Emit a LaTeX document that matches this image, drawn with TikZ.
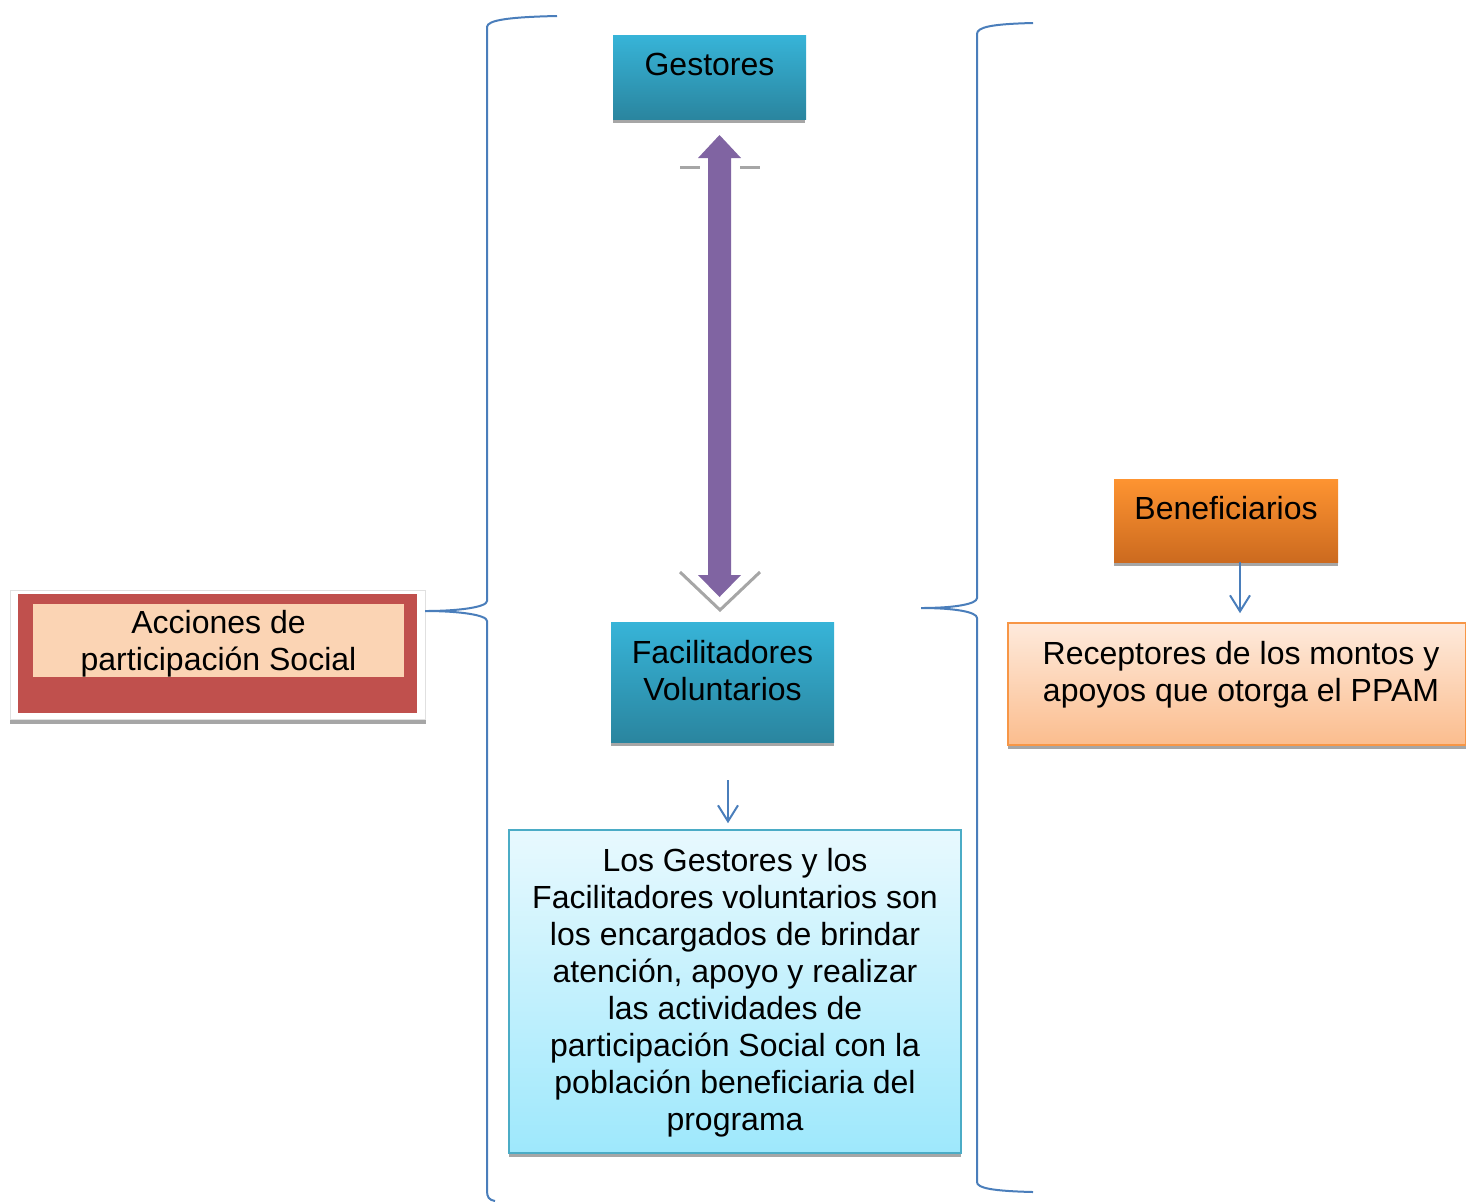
\documentclass[tikz,border=0pt]{standalone}
\usepackage{fontspec}
\setmainfont{Liberation Sans}
\usetikzlibrary{arrows.meta}
\definecolor{tealtop}{HTML}{37B4D8}
\definecolor{tealbot}{HTML}{2A859F}
\definecolor{lbtop}{HTML}{E8F9FE}
\definecolor{lbbot}{HTML}{9EE8FC}
\definecolor{lbline}{HTML}{4BACC6}
\definecolor{ortop}{HTML}{FE9431}
\definecolor{orbot}{HTML}{CC6A1F}
\definecolor{pchtop}{HTML}{FEEADC}
\definecolor{pchbot}{HTML}{FBBD8E}
\definecolor{orline}{HTML}{F79646}
\definecolor{redc}{HTML}{C0504D}
\definecolor{peach}{HTML}{FBD4B4}
\definecolor{shadowc}{HTML}{A6A6A6}
\definecolor{bracec}{HTML}{4A7EBB}
\definecolor{purp}{HTML}{8064A2}
\tikzset{
  txt/.style={font=\fontsize{16}{18.5}\selectfont, align=center, inner sep=0pt},
  tealbox/.style={rectangle, inner sep=0pt, top color=tealtop, bottom color=tealbot, draw=none},
  lbbox/.style={rectangle, inner sep=0pt, top color=lbtop, bottom color=lbbot, draw=lbline, line width=0.8pt},
  orbox/.style={rectangle, inner sep=0pt, top color=ortop, bottom color=orbot, draw=none},
  pchbox/.style={rectangle, inner sep=0pt, top color=pchtop, bottom color=pchbot, draw=orline, line width=0.8pt},
  bracepath/.style={draw=bracec, line width=1pt},
  barrow/.style={draw=bracec, line width=1pt, -{Straight Barb[length=8pt,width=10pt,line width=1pt]}},
}
\begin{document}
\begin{tikzpicture}[x=0.5pt,y=-0.5pt]
\useasboundingbox (0,0) rectangle (1466,1201);
% Acciones
\fill[shadowc] (10,719) rectangle (426,724);
\node[rectangle, draw=black!12, fill=white, line width=0.5pt, minimum width=207.5pt, minimum height=64.5pt, inner sep=0pt] (accframe) at (217.5,654.5) {};
\node[rectangle, fill=redc, minimum width=199.5pt, minimum height=59.5pt, inner sep=0pt] (acc) at (217.5,653.5) {};
\node[rectangle, fill=peach, minimum width=185.5pt, minimum height=36.5pt, inner sep=0pt] (accin) at (218.5,640.5) {};
\node[txt] (acctxt) at (218.5,644) {Acciones de\\participación Social};
% Gestores
\fill[shadowc] (613,119) rectangle (805,123);
\node[tealbox, minimum width=96.5pt, minimum height=42pt] (ges) at (709.5,77) {};
\node[txt] (gestxt) at (709.5,64) {Gestores};
% Facilitadores
\fill[shadowc] (611,742) rectangle (834,746);
\node[tealbox, minimum width=111.5pt, minimum height=60pt] (fac) at (722.5,682) {};
\node[txt] (factxt) at (722.5,670.5) {Facilitadores\\Voluntarios};
% Big box
\fill[shadowc] (509,1153) rectangle (961,1157);
\node[lbbox, minimum width=226pt, minimum height=161.5pt] (big) at (735,991.5) {};
\node[txt] (bigtxt) at (735,992.5) {Los Gestores y los\\Facilitadores voluntarios son\\los encargados de brindar\\atención, apoyo y realizar\\las actividades de\\participación Social con la\\población beneficiaria del\\programa};
% Beneficiarios
\fill[shadowc] (1114,562) rectangle (1338,566);
\node[orbox, minimum width=112pt, minimum height=41.5pt] (ben) at (1226,520.5) {};
\node[txt] (bentxt) at (1226,508) {Beneficiarios};
% Receptores
\fill[shadowc] (1008,745) rectangle (1466,749);
\node[pchbox, minimum width=229pt, minimum height=61pt] (rec) at (1237,684) {};
\node[txt] (rectxt) at (1241,674.5) {Receptores de los montos y\\apoyos que otorga el PPAM};
% purple double arrow with gray chevron
\draw[shadowc, line width=1.5pt] (680,572) -- (720,610) -- (760,572);
\draw[shadowc, line width=1.5pt] (680,167) -- (700,167) (740,167) -- (760,167);
\fill[white] (702,160) rectangle (737,580);
\fill[purp] (719.5,135) -- (741,158) -- (731,158) -- (731,575) -- (741,575) -- (719.5,597) -- (698,575) -- (708,575) -- (708,158) -- (698,158) -- cycle;
% braces
\draw[bracepath] (557,16) .. controls (510,17) and (487,20) .. (487,27) -- (487,601) .. controls (487,607) and (460,611) .. (425,611)
  .. controls (460,611) and (487,615) .. (487,621) -- (487,1191) .. controls (487,1197) and (489,1200) .. (495,1201);
\draw[bracepath] (1033,23) .. controls (992,24) and (977,27) .. (977,34) -- (977,598) .. controls (977,604) and (955,608) .. (921,608)
  .. controls (955,608) and (977,612) .. (977,618) -- (977,1182) .. controls (977,1188) and (992,1191) .. (1033,1192);
% blue arrows
\draw[barrow, shorten <=19pt, shorten >=3pt] ([xshift=2.75pt]fac.south) -- ([xshift=-3.5pt]big.north);
\draw[barrow, shorten >=4.5pt] ([xshift=7pt]ben.south) -- ([xshift=1.5pt]rec.north);
\end{tikzpicture}
\end{document}
